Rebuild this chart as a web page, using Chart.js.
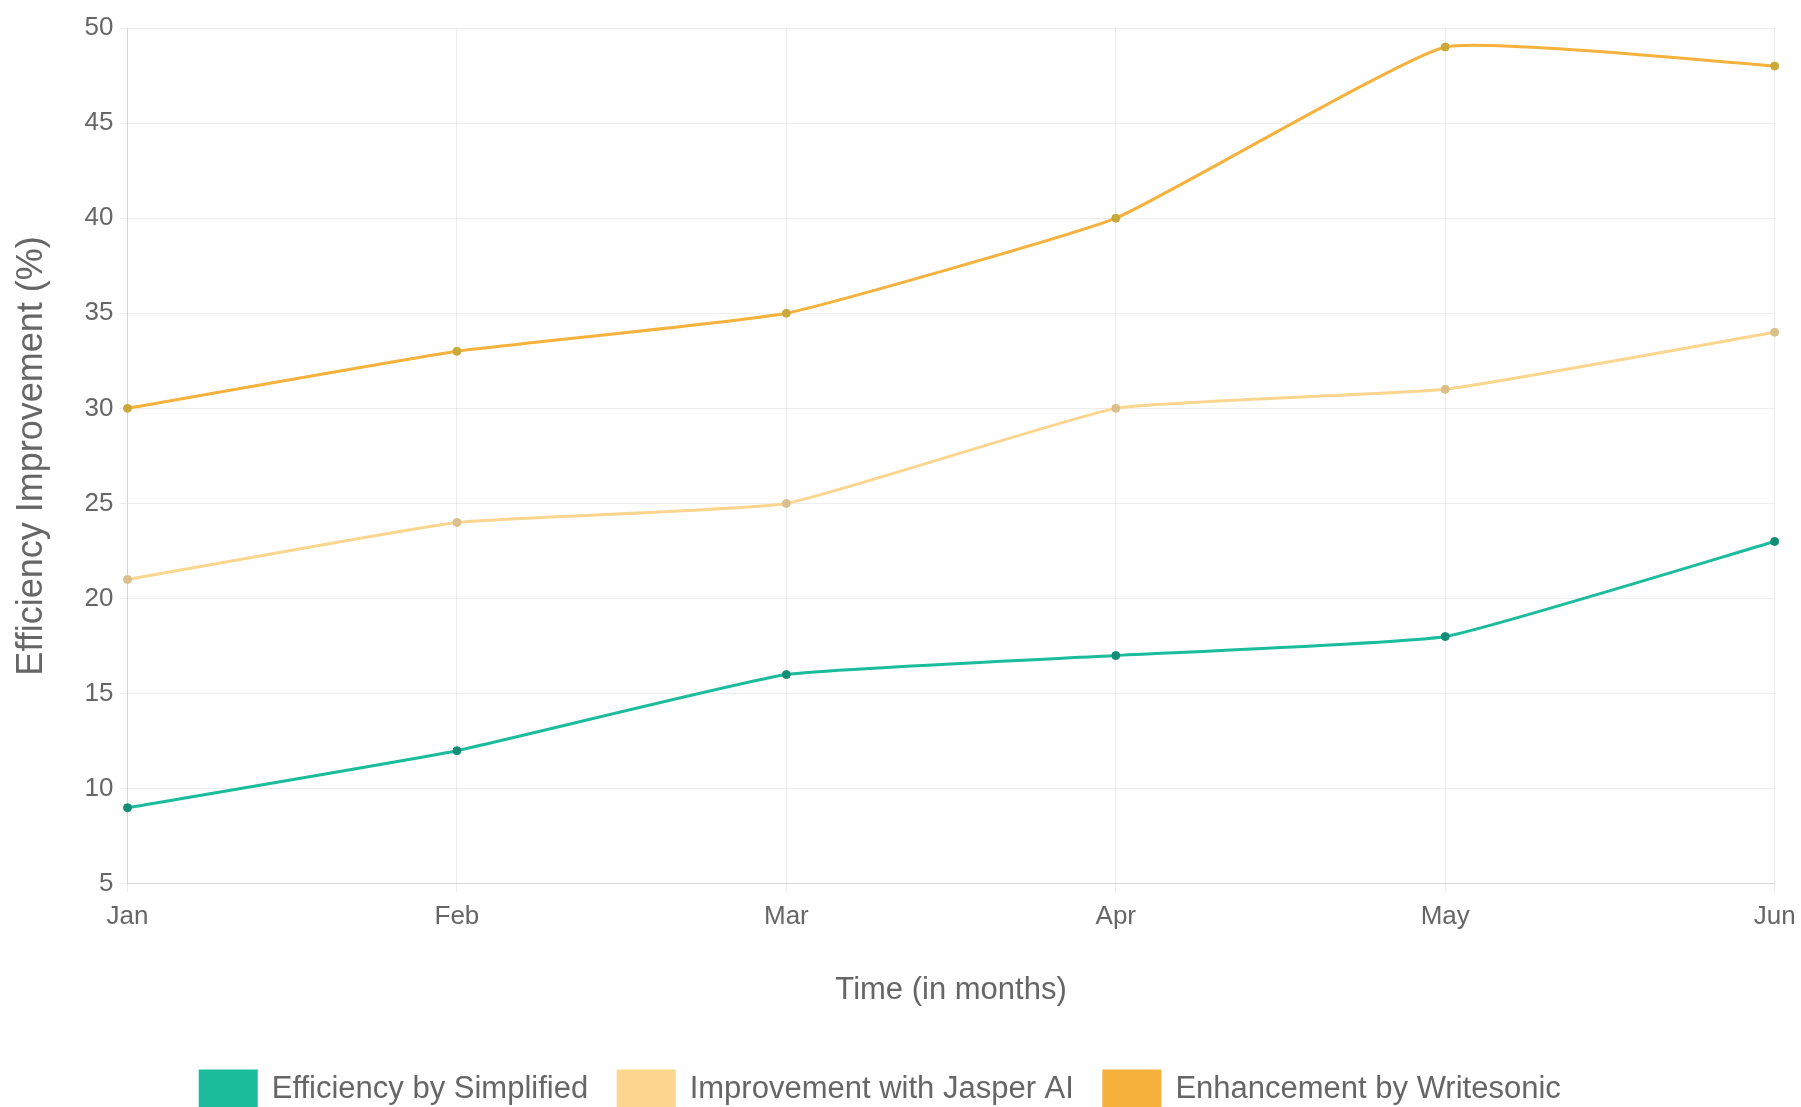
<!DOCTYPE html>
<html>
<head>
<meta charset="utf-8">
<script src="https://cdn.jsdelivr.net/npm/chart.js@4/dist/chart.umd.min.js"></script>
<style>
  html, body { margin:0; padding:0; background:#fff; overflow:hidden; }
  #wrap { position:absolute; left:-40px; top:0; width:1845px; height:1122px; }
</style>
</head>
<body>
<div id="wrap"><canvas id="chart"></canvas></div>
<script>
// Data
const months = ["Jan","Feb","Mar","Apr","May","Jun"];
const simplified = [9, 12, 16, 17, 18, 23];
const jasper     = [21, 24, 25, 30, 31, 34];
const writesonic = [30, 33, 35, 40, 49, 48];

const names = ["Efficiency by Simplified","Improvement with Jasper AI","Enhancement by Writesonic"];
const yMin = 5, yMax = 50, yStep = 5;

Chart.defaults.color = "#666";
Chart.defaults.font.family = "'Liberation Sans', Arial, Helvetica, sans-serif";

const line = (label, data, color, dot) => ({
  label, data,
  borderColor: color, backgroundColor: color,
  borderWidth: 3, tension: 0.12, fill: false,
  pointRadius: 4, pointBackgroundColor: dot, pointBorderColor: dot, pointBorderWidth: 1
});

const ctx = document.getElementById("chart").getContext("2d");
new Chart(ctx, {
  type: "line",
  data: {
    labels: months,
    datasets: [
      line(names[0], simplified, "#1abc9c", "#138d75"),
      line(names[1], jasper, "#fcd58e", "#d9bf8c"),
      line(names[2], writesonic, "#f6b23c", "#c9a93a")
    ]
  },
  options: {
    responsive: true,
    maintainAspectRatio: false,
    animation: false,
    layout: { padding: { left: 26, right: 30, top: 28, bottom: 5 } },
    plugins: {
      legend: {
        position: "bottom",
        labels: { font: { size: 31 }, boxWidth: 56, boxHeight: 36, padding: 30 }
      },
      tooltip: { enabled: false }
    },
    scales: {
      x: {
        grid: { color: "rgba(0,0,0,0.07)", tickLength: 8 },
        ticks: { font: { size: 26 }, padding: 9.4 },
        title: { display: true, text: "Time (in months)", font: { size: 31 }, padding: { top: 30, bottom: 32 } }
      },
      y: {
        min: yMin, max: yMax,
        grid: { color: "rgba(0,0,0,0.07)", tickLength: 8 },
        ticks: { stepSize: yStep, font: { size: 26 }, padding: 6 },
        title: { display: true, text: "Efficiency Improvement (%)", font: { size: 36 }, padding: { top: 24, bottom: 4 } },
        afterFit: s => { s.width = 141.5; }
      }
    }
  }
});
</script>
</body>
</html>
